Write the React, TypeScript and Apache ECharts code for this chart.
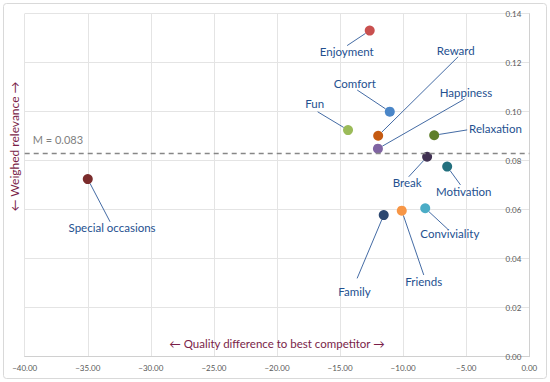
import React, { useEffect, useRef } from "react";
import * as echarts from "echarts";

const names = [
  "Enjoyment", "Comfort", "Fun", "Reward", "Happiness", "Relaxation",
  "Break", "Motivation", "Special occasions", "Family", "Friends", "Conviviality",
];
const qualityDiff = [-12.65, -11.06, -14.37, -11.98, -12.0, -7.54, -8.1, -6.51, -35.0, -11.54, -10.11, -8.25];
const relevance = [0.1331, 0.1, 0.0925, 0.0902, 0.0849, 0.0904, 0.0816, 0.0776, 0.0725, 0.0578, 0.0596, 0.0606];
const meanRelevance = 0.083;
const xTicks = { min: -40, max: 0, interval: 5 };
const yTicks = { min: 0, max: 0.14, interval: 0.02 };

// styles / layout (kept apart from the data)
const pointColors = [
  "#c9504f", "#4a86c8", "#9bbb59", "#c55a11", "#8064a2", "#5f7f2a",
  "#403152", "#23707e", "#7b2c2c", "#2c4770", "#f79646", "#4bacc6",
];
// label centre offsets from the point, in px
const labelOffsets: [number, number][] = [
  [-23, 21], [-35, -28.7], [-33.4, -26.7], [77.6, -85.7], [88, -56.4], [61.3, -6.3],
  [-20, 26], [16.6, 25], [24.3, 48.3], [-29.3, 76], [22, 71], [24.6, 25.7],
];
// leader-line end offsets from the point, in px
const leaderEnds: [number, number][] = [
  [-22.6, 15], [-32.6, -21.7], [-30.4, -18.3], [80, -79], [86.7, -49.7], [33, -5.3],
  [-18.4, 20], [13.3, 18.3], [22.3, 42.7], [-26.6, 63.3], [22, 64.3], [22.6, 21],
];
const SYMBOL = 10;

const fmtNum = (v: number) => (v < 0 ? "\u2212" + Math.abs(v).toFixed(2) : v.toFixed(2));

export default function App() {
  const ref = useRef<HTMLDivElement>(null);
  useEffect(() => {
    if (!ref.current) return;
    const chart = echarts.init(ref.current, undefined, { renderer: "svg" });
    const font = "Lato";
    const pts = names.map((n, i) => [qualityDiff[i], relevance[i], i]);
    chart.setOption({
      animation: false,
      backgroundColor: "#ffffff",
      grid: { left: 24.7, right: 20.7, top: 13.7, bottom: 25.3 },
      xAxis: {
        type: "value",
        min: xTicks.min,
        max: xTicks.max,
        interval: xTicks.interval,
        name: "\u2190 Quality difference to best competitor \u2192",
        nameLocation: "middle",
        nameGap: -19,
        nameTextStyle: { color: "#7a1e48", fontSize: 11.5, fontFamily: font },
        axisLine: { show: true, onZero: false, lineStyle: { color: "#d0d0d0", width: 1 } },
        axisTick: { show: false },
        axisLabel: { color: "#595959", fontSize: 8, fontFamily: font, margin: 7, formatter: fmtNum },
        splitLine: { show: true, lineStyle: { color: "#e4e4e4", width: 1 } },
      },
      yAxis: {
        type: "value",
        position: "right",
        min: yTicks.min,
        max: yTicks.max,
        interval: yTicks.interval,
        axisLine: { show: true, onZero: false, lineStyle: { color: "#d0d0d0", width: 1 } },
        axisTick: { show: false },
        axisLabel: {
          inside: true,
          color: "#595959",
          fontSize: 8,
          fontFamily: font,
          margin: 8,
          formatter: (v: number) => v.toFixed(2),
        },
        splitLine: { show: true, lineStyle: { color: "#e4e4e4", width: 1 } },
      },
      graphic: [
        {
          type: "rect",
          shape: { x: 3.5, y: 3.5, width: 543, height: 375, r: 3 },
          style: { fill: "none", stroke: "#d9d9d9", lineWidth: 1 },
          silent: true,
        },
        {
          type: "text",
          x: 14.5,
          y: 146.5,
          rotation: Math.PI / 2,
          style: {
            text: "\u2190 Weighed relevance \u2192",
            fill: "#7a1e48",
            fontSize: 12,
            fontFamily: font,
            align: "center",
            verticalAlign: "middle",
          },
        },
      ],
      series: [
        {
          type: "scatter",
          symbolSize: SYMBOL,
          z: 3,
          data: names.map((n, i) => ({
            name: n,
            value: [qualityDiff[i], relevance[i]],
            itemStyle: { color: pointColors[i], opacity: 1 },
          })),
          markLine: {
            silent: true,
            symbol: "none",
            precision: 3,
            lineStyle: { color: "#878787", type: [5, 4], width: 1.3 },
            label: {
              show: true,
              position: "insideStartTop",
              formatter: "M = " + meanRelevance.toFixed(3),
              color: "#7f7f7f",
              fontSize: 11,
              fontFamily: font,
              distance: [8, 8],
            },
            data: [{ yAxis: meanRelevance }],
          },
        },
        {
          type: "custom",
          z: 2,
          clip: false,
          data: pts,
          renderItem: (params: any, api: any) => {
            const i = api.value(2);
            const p = api.coord([api.value(0), api.value(1)]);
            const [ex, ey] = leaderEnds[i];
            const len = Math.hypot(ex, ey);
            const r = SYMBOL / 2;
            const [lx, ly] = labelOffsets[i];
            return {
              type: "group",
              children: [
                {
                  type: "line",
                  shape: {
                    x1: p[0] + (ex / len) * r,
                    y1: p[1] + (ey / len) * r,
                    x2: p[0] + ex,
                    y2: p[1] + ey,
                  },
                  style: { stroke: "#2f5a9a", lineWidth: 0.9 },
                },
                {
                  type: "text",
                  x: p[0] + lx,
                  y: p[1] + ly,
                  style: {
                    text: names[i],
                    fill: "#24508f",
                    fontSize: 11.5,
                    fontFamily: font,
                    align: "center",
                    verticalAlign: "middle",
                  },
                },
              ],
            };
          },
        },
      ],
    });
    return () => chart.dispose();
  }, []);
  return <div ref={ref} style={{ width: 550, height: 382, position: "absolute", left: 0, top: 0 }} />;
}
